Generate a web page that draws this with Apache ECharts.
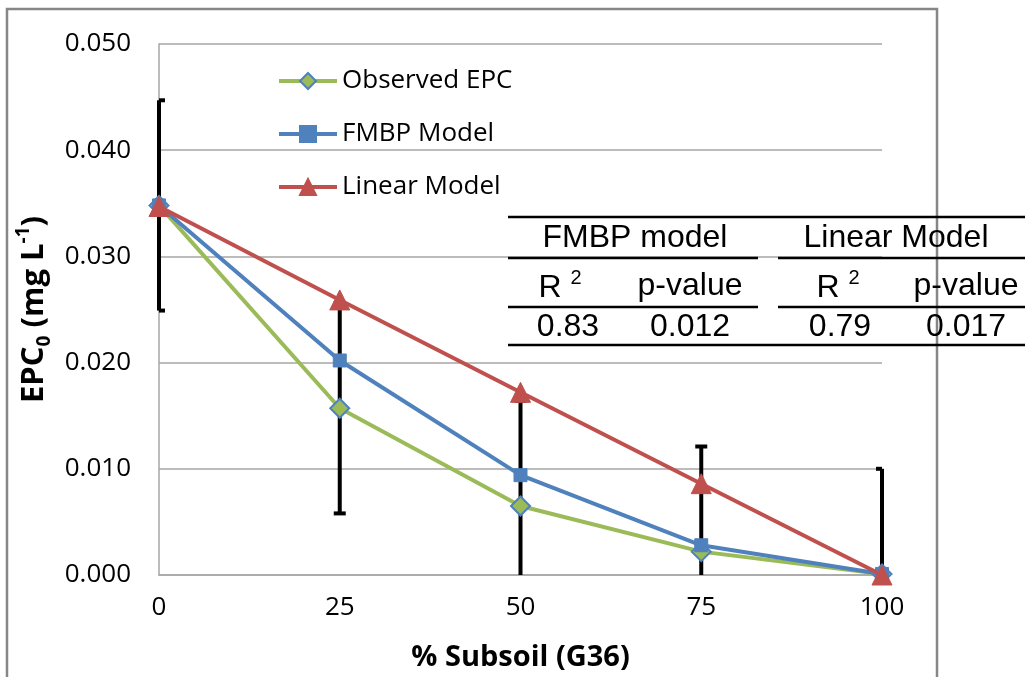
<!DOCTYPE html>
<html>
<head>
<meta charset="utf-8">
<script src="https://cdn.jsdelivr.net/npm/echarts@6/dist/echarts.min.js"></script>
<style>
  html, body { margin: 0; padding: 0; background: #fff; }
  #chart { width: 1025px; height: 677px; }
</style>
</head>
<body>
<div id="chart"></div>
<script>
// % subsoil in the mix
const subsoil = [0, 25, 50, 75, 100];
// EPC0 (mg L-1)
const observedEPC = [0.0348, 0.0157, 0.0065, 0.0022, 0.0001];
const fmbpModel   = [0.0348, 0.0202, 0.0094, 0.0028, 0.0001];
const linearModel = [0.0347, 0.0259, 0.0172, 0.0086, 0.0000];
// standard deviation of the observed EPC0
const observedSD  = [0.0099, 0.0099, 0.0099, 0.0099, 0.0099];

const yTicks = [0, 0.01, 0.02, 0.03, 0.04, 0.05];

// goodness-of-fit summary
const tableGroups = ['FMBP model', 'Linear Model'];
const tableColumns = ['R', 'p-value', 'R', 'p-value'];
const tableValues = ['0.83', '0.012', '0.79', '0.017'];

const GREEN = '#9BBB59', BLUE = '#4F81BD', RED = '#C0504D';
const FONT = 'Open Sans';
const TFONT = 'Liberation Sans';

const chart = echarts.init(document.getElementById('chart'));

const errorData = subsoil.map((x, i) => [x, observedEPC[i] - observedSD[i], observedEPC[i] + observedSD[i]]);

// table geometry
const tLeft = 508, tRight = 1025, tSplitL = 758, tSplitR = 778;
const rowLines = [217, 258, 307, 345];
const colCenters = [568, 690, 840, 966];
const rCenters = [560, 690, 838, 966];
const groupCenters = [635, 896];
const tFont = '32px "' + TFONT + '"';

const tableGraphics = [];
// full-width top and bottom rules
[rowLines[0], rowLines[3]].forEach(y => tableGraphics.push({
  type: 'line', z: 10,
  shape: { x1: tLeft, y1: y, x2: tRight, y2: y },
  style: { stroke: '#000', lineWidth: 2.5 }
}));
// split rules under each group
[rowLines[1], rowLines[2]].forEach(y => {
  tableGraphics.push({ type: 'line', z: 10, shape: { x1: tLeft, y1: y, x2: tSplitL, y2: y }, style: { stroke: '#000', lineWidth: 2.5 } });
  tableGraphics.push({ type: 'line', z: 10, shape: { x1: tSplitR, y1: y, x2: tRight, y2: y }, style: { stroke: '#000', lineWidth: 2.5 } });
});
tableGroups.forEach((t, i) => tableGraphics.push({
  type: 'text', z: 10, x: groupCenters[i], y: 238,
  style: { text: t, font: tFont, fill: '#000', align: 'center', verticalAlign: 'middle' }
}));
tableColumns.forEach((t, i) => {
  const isR = t === 'R';
  tableGraphics.push({
    type: 'text', z: 10, x: rCenters[i], y: 286,
    style: isR ? {
      text: '{m|R }{s|2}',
      rich: {
        m: { font: tFont, fill: '#000', lineHeight: 36, verticalAlign: 'bottom' },
        s: { font: '20px "' + TFONT + '"', fill: '#000', lineHeight: 36, verticalAlign: 'top', padding: [0, 0, 14, 0] }
      },
      align: 'center', verticalAlign: 'middle'
    } : { text: t, font: tFont, fill: '#000', align: 'center', verticalAlign: 'middle' }
  });
});
tableValues.forEach((t, i) => tableGraphics.push({
  type: 'text', z: 10, x: colCenters[i], y: 327,
  style: { text: t, font: tFont, fill: '#000', align: 'center', verticalAlign: 'middle' }
}));

const option = {
  animation: false,
  backgroundColor: '#fff',
  grid: { left: 159, right: 143, top: 44, bottom: 99 },
  legend: {
    orient: 'vertical',
    left: 272, top: 63,
    itemWidth: 58, itemHeight: 20, itemGap: 27,
    lineStyle: { width: 4 },
    textStyle: { fontFamily: FONT, fontSize: 26, color: '#000' },
    data: ['Observed EPC', 'FMBP Model', 'Linear Model']
  },
  xAxis: {
    type: 'value', min: 0, max: 100, interval: 25,
    name: '% Subsoil (G36)', nameLocation: 'middle', nameGap: 68,
    nameTextStyle: { fontFamily: FONT, fontSize: 29, fontWeight: 'bold', color: '#000' },
    axisLine: { show: true, lineStyle: { color: '#A6A6A6', width: 1.5 } },
    axisTick: { show: false },
    splitLine: { show: false },
    axisLabel: { fontFamily: FONT, fontSize: 26, color: '#000', margin: 20 }
  },
  yAxis: {
    type: 'value', min: yTicks[0], max: yTicks[yTicks.length - 1], interval: 0.01,
    name: '{b|EPC}{sub|0}{b| (mg L}{sup|-1}{b|)}',
    nameLocation: 'middle', nameGap: 102, nameRotate: 90,
    nameTextStyle: {
      fontFamily: FONT, fontSize: 31, fontWeight: 'bold', color: '#000',
      rich: {
        b: { fontFamily: FONT, fontSize: 31, fontWeight: 'bold', color: '#000', lineHeight: 40 },
        sub: { fontFamily: FONT, fontSize: 19, fontWeight: 'bold', color: '#000', lineHeight: 22, verticalAlign: 'bottom' },
        sup: { fontFamily: FONT, fontSize: 19, fontWeight: 'bold', color: '#000', lineHeight: 22, verticalAlign: 'top' }
      }
    },
    axisLine: { show: true, lineStyle: { color: '#A6A6A6', width: 1.5 } },
    axisTick: { show: false },
    splitLine: { show: true, lineStyle: { color: '#A6A6A6', width: 1.5 } },
    axisLabel: {
      fontFamily: FONT, fontSize: 26, color: '#000', margin: 28,
      formatter: v => v.toFixed(3)
    }
  },
  graphic: [
    {
      type: 'rect', z: -10, silent: true,
      shape: { x: 7, y: 9, width: 930, height: 700 },
      style: { fill: 'none', stroke: '#868686', lineWidth: 2.5 }
    }
  ].concat(tableGraphics),
  series: [
    {
      name: 'SD', type: 'custom', z: 1,
      data: errorData,
      renderItem: (params, api) => {
        const cs = params.coordSys;
        const left = cs.x, right = cs.x + cs.width, bottom = cs.y + cs.height;
        const x = api.value(0);
        const lo = api.coord([x, api.value(1)]);
        const hi = api.coord([x, api.value(2)]);
        const cap = 6;
        const st = { stroke: '#000', lineWidth: 4 };
        const children = [];
        const yLo = Math.min(lo[1], bottom);
        children.push({ type: 'line', shape: { x1: lo[0], y1: yLo, x2: hi[0], y2: hi[1] }, style: st });
        children.push({ type: 'line', shape: { x1: Math.max(hi[0] - cap, left), y1: hi[1], x2: Math.min(hi[0] + cap, right), y2: hi[1] }, style: st });
        if (lo[1] <= bottom) {
          children.push({ type: 'line', shape: { x1: Math.max(lo[0] - cap, left), y1: lo[1], x2: Math.min(lo[0] + cap, right), y2: lo[1] }, style: st });
        }
        return { type: 'group', children: children };
      }
    },
    {
      name: 'Observed EPC', type: 'line', z: 3,
      data: subsoil.map((x, i) => [x, observedEPC[i]]),
      symbol: 'diamond', symbolSize: 19,
      lineStyle: { color: GREEN, width: 4 },
      itemStyle: { color: GREEN, borderColor: BLUE, borderWidth: 2 }
    },
    {
      name: 'FMBP Model', type: 'line', z: 4,
      data: subsoil.map((x, i) => [x, fmbpModel[i]]),
      symbol: 'rect', symbolSize: 13,
      lineStyle: { color: BLUE, width: 4 },
      itemStyle: { color: BLUE, borderColor: BLUE, borderWidth: 1 }
    },
    {
      name: 'Linear Model', type: 'line', z: 5,
      data: subsoil.map((x, i) => [x, linearModel[i]]),
      symbol: 'triangle', symbolSize: 20,
      lineStyle: { color: RED, width: 4 },
      itemStyle: { color: RED, borderColor: RED, borderWidth: 1 }
    }
  ]
};

chart.setOption(option);
</script>
</body>
</html>
